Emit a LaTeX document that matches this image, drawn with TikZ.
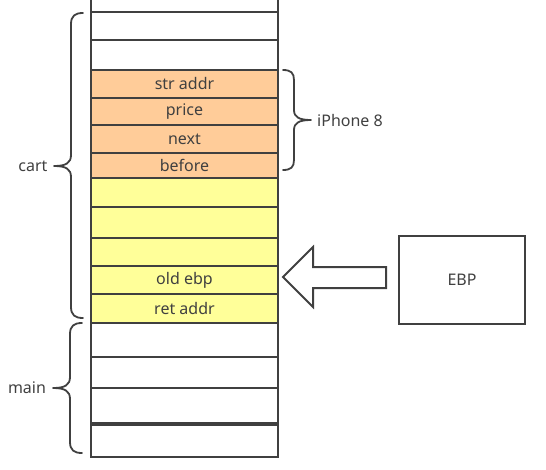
\documentclass[tikz,border=0pt]{standalone}
\usepackage{fontspec}
\setmainfont{Noto Sans}
\definecolor{lc}{HTML}{404040}
\definecolor{tc}{HTML}{404040}
\definecolor{orangecell}{HTML}{FFCC99}
\definecolor{yellowcell}{HTML}{FFFF99}
\begin{document}
\begin{tikzpicture}[x=1pt,y=-1pt,
  cell/.style={draw=lc, line width=2pt, minimum width=187pt, anchor=north west,
    inner sep=0pt, outer sep=0pt, font=\fontsize{16}{16}\selectfont, text=tc, fill=white},
  orangec/.style={cell, fill=orangecell},
  yellowc/.style={cell, fill=yellowcell},
  bracepath/.style={draw=lc, line width=1.8pt, line cap=round, line join=round},
  lbl/.style={font=\fontsize{16}{16}\selectfont, text=tc, inner sep=0pt},
  ebpbox/.style={draw=lc, line width=2pt, minimum width=126pt, minimum height=88pt, inner sep=0pt,
    font=\fontsize{16}{16}\selectfont, text=tc},
  blockarrow/.style={draw=lc, line width=2pt, fill=white, line join=miter}
]
\useasboundingbox (0,0) rectangle (546,469);
\clip (0,0) rectangle (546,469);
% stack cells
\node[cell, minimum height=22pt] (r0) at (91,-10) {};
\node[cell, minimum height=28pt] (r1) at (91,12) {};
\node[cell, minimum height=29.5pt] (r2) at (91,40) {};
\node[orangec, minimum height=28.5pt] (r3) at (91,69.5) {str addr};
\node[orangec, minimum height=27pt] (r4) at (91,98) {price};
\node[orangec, minimum height=28pt] (r5) at (91,125) {next};
\node[orangec, minimum height=25pt] (r6) at (91,153) {before};
\node[yellowc, minimum height=29pt] (r7) at (91,178) {};
\node[yellowc, minimum height=31pt] (r8) at (91,207) {};
\node[yellowc, minimum height=28pt] (r9) at (91,238) {};
\node[yellowc, minimum height=28pt] (r10) at (91,266) {old ebp};
\node[yellowc, minimum height=29pt] (r11) at (91,294) {ret addr};
\node[cell, minimum height=34pt] (r12) at (91,323) {};
\node[cell, minimum height=31pt] (r13) at (91,357) {};
\node[cell, minimum height=35pt] (r14) at (91,388) {};
\node[cell, minimum height=32pt] (r15) at (91,425) {};
% braces
\draw[bracepath] (83,13) .. controls (75,13) and (71,16) .. (71,24) -- (71,155)
  .. controls (71,163) and (66,166) .. (54,166)
  .. controls (66,166) and (71,169) .. (71,177) -- (71,307)
  .. controls (71,315) and (75,318) .. (83,318);
\draw[bracepath] (82,323) .. controls (74,323) and (70,326) .. (70,334) -- (70,377)
  .. controls (70,385) and (65,388) .. (53,388)
  .. controls (65,388) and (70,391) .. (70,399) -- (70,442)
  .. controls (70,450) and (74,453) .. (82,453);
\draw[bracepath] (283,70) .. controls (291,70) and (294,73) .. (294,80) -- (294,110)
  .. controls (294,117) and (299,120) .. (311,120)
  .. controls (299,120) and (294,123) .. (294,130) -- (294,160)
  .. controls (294,167) and (291,170) .. (283,170);
% labels
\node[lbl] (cart) at (33,166) {cart};
\node[lbl] (main) at (27,388) {main};
\node[lbl, anchor=west] (iphone) at (317,120) {iPhone 8};
% EBP box and arrow
\node[ebpbox] (ebp) at (462,280) {EBP};
\draw[blockarrow] (283,277) -- (313,247) -- (313,267) -- (386,267) -- (386,288)
  -- (313,288) -- (313,307) -- cycle;
\end{tikzpicture}
\end{document}
